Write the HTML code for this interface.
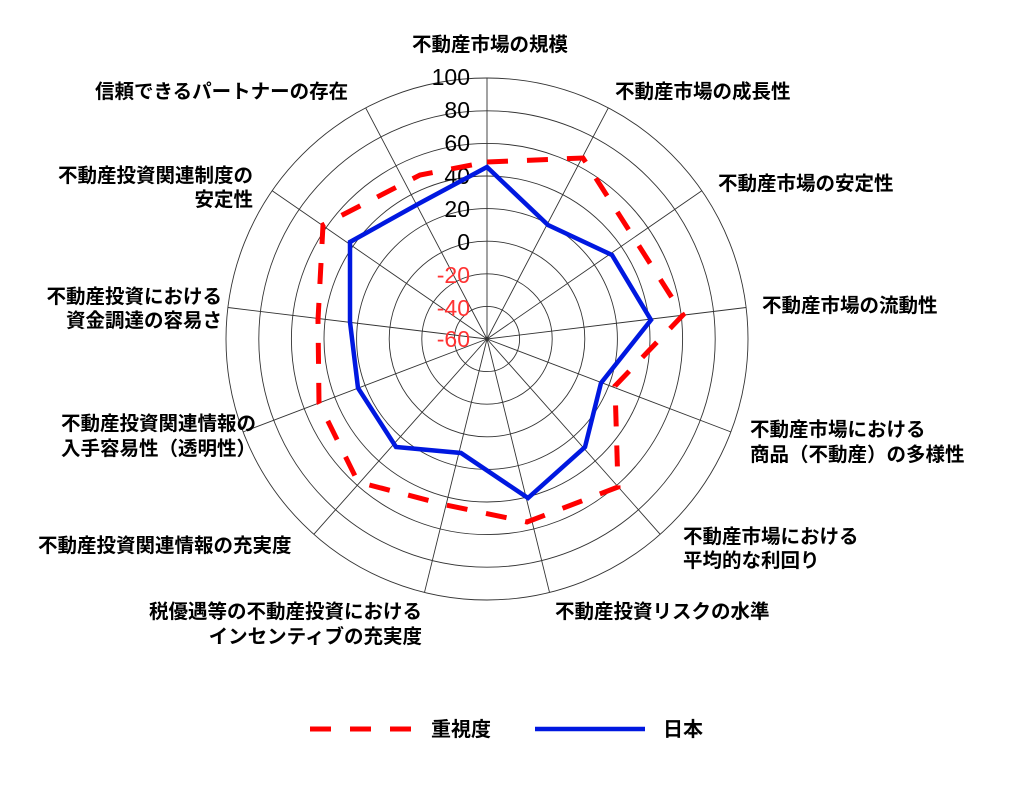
<!DOCTYPE html>
<html><head><meta charset="utf-8"><style>
body{margin:0;background:#fff;}
svg{display:block;}
.l{font-family:"Noto Sans CJK JP","Liberation Sans",sans-serif;font-size:19.5px;font-weight:bold;fill:#000;}
.n{font-family:"Liberation Sans",sans-serif;font-size:23px;}
</style></head><body>
<svg width="1024" height="812" viewBox="0 0 1024 812" xmlns="http://www.w3.org/2000/svg">
<rect width="1024" height="812" fill="#fff"/>
<g fill="none" stroke="#333" stroke-width="0.9">
<circle cx="487" cy="339" r="32.6"/><circle cx="487" cy="339" r="65.2"/><circle cx="487" cy="339" r="97.8"/><circle cx="487" cy="339" r="130.4"/>
<circle cx="487" cy="339" r="163"/><circle cx="487" cy="339" r="195.6"/><circle cx="487" cy="339" r="228.2"/><circle cx="487" cy="339" r="261"/>
<path d="M487,339L487,78 M487,339L608.3,107.9 M487,339L701.8,190.7 M487,339L746.1,307.5 M487,339L731.1,432.0 M487,339L660.3,534.4 M487,339L549.5,592.3 M487,339L424.5,592.3 M487,339L313.7,534.4 M487,339L242.9,432.0 M487,339L227.9,307.5 M487,339L272.2,190.7 M487,339L365.7,107.9"/>
</g>
<g class="n" text-anchor="end">
<text x="470" y="85" fill="#000">100</text>
<text x="470" y="118" fill="#000">80</text>
<text x="470" y="151" fill="#000">60</text>
<text x="470" y="184" fill="#000">40</text>
<text x="470" y="217" fill="#000">20</text>
<text x="470" y="250" fill="#000">0</text>
<text x="470" y="283" fill="#f33">-20</text>
<text x="470" y="316" fill="#f33">-40</text>
<text x="470" y="347" fill="#f33">-60</text>
</g>
<polygon fill="none" stroke="#f00" stroke-width="5" stroke-dasharray="21,19" points="487,162 583,158 683,315 615,386 618,487 527,522 446,505 358,482 319,403 318,320 323,225 420,175"/>
<polygon fill="none" stroke="#0018e0" stroke-width="4.5" stroke-linejoin="miter" points="487,167 548,225 612,255 651,320 601,383 585,447 528,498 461,453 396,447 358,388 350,322 350,242 420,203"/>
<g class="l">
<text x="490" y="51" text-anchor="middle">不動産市場の規模</text>
<text x="615" y="98">不動産市場の成長性</text>
<text x="718" y="190">不動産市場の安定性</text>
<text x="762" y="312">不動産市場の流動性</text>
<text x="750" y="436">不動産市場における</text>
<text x="750" y="461">商品（不動産）の多様性</text>
<text x="683" y="543">不動産市場における</text>
<text x="683" y="567">平均的な利回り</text>
<text x="555" y="618">不動産投資リスクの水準</text>
<text x="422" y="618" text-anchor="end">税優遇等の不動産投資における</text>
<text x="422" y="643" text-anchor="end">インセンティブの充実度</text>
<text x="38" y="552">不動産投資関連情報の充実度</text>
<text x="256" y="430" text-anchor="end">不動産投資関連情報の</text>
<text x="256" y="455" text-anchor="end">入手容易性（透明性）</text>
<text x="222" y="303" text-anchor="end">不動産投資における</text>
<text x="222" y="327" text-anchor="end">資金調達の容易さ</text>
<text x="253" y="182" text-anchor="end">不動産投資関連制度の</text>
<text x="253" y="206" text-anchor="end">安定性</text>
<text x="95" y="98">信頼できるパートナーの存在</text>
</g>
<path d="M310,729H331M350,729H371M390,729H411" stroke="#f00" stroke-width="5"/>
<path d="M535,729H645" stroke="#0018e0" stroke-width="4.5"/>
<text class="l" x="431" y="736" style="font-size:20px">重視度</text>
<text class="l" x="663" y="736" style="font-size:20px">日本</text>
</svg>
</body></html>
